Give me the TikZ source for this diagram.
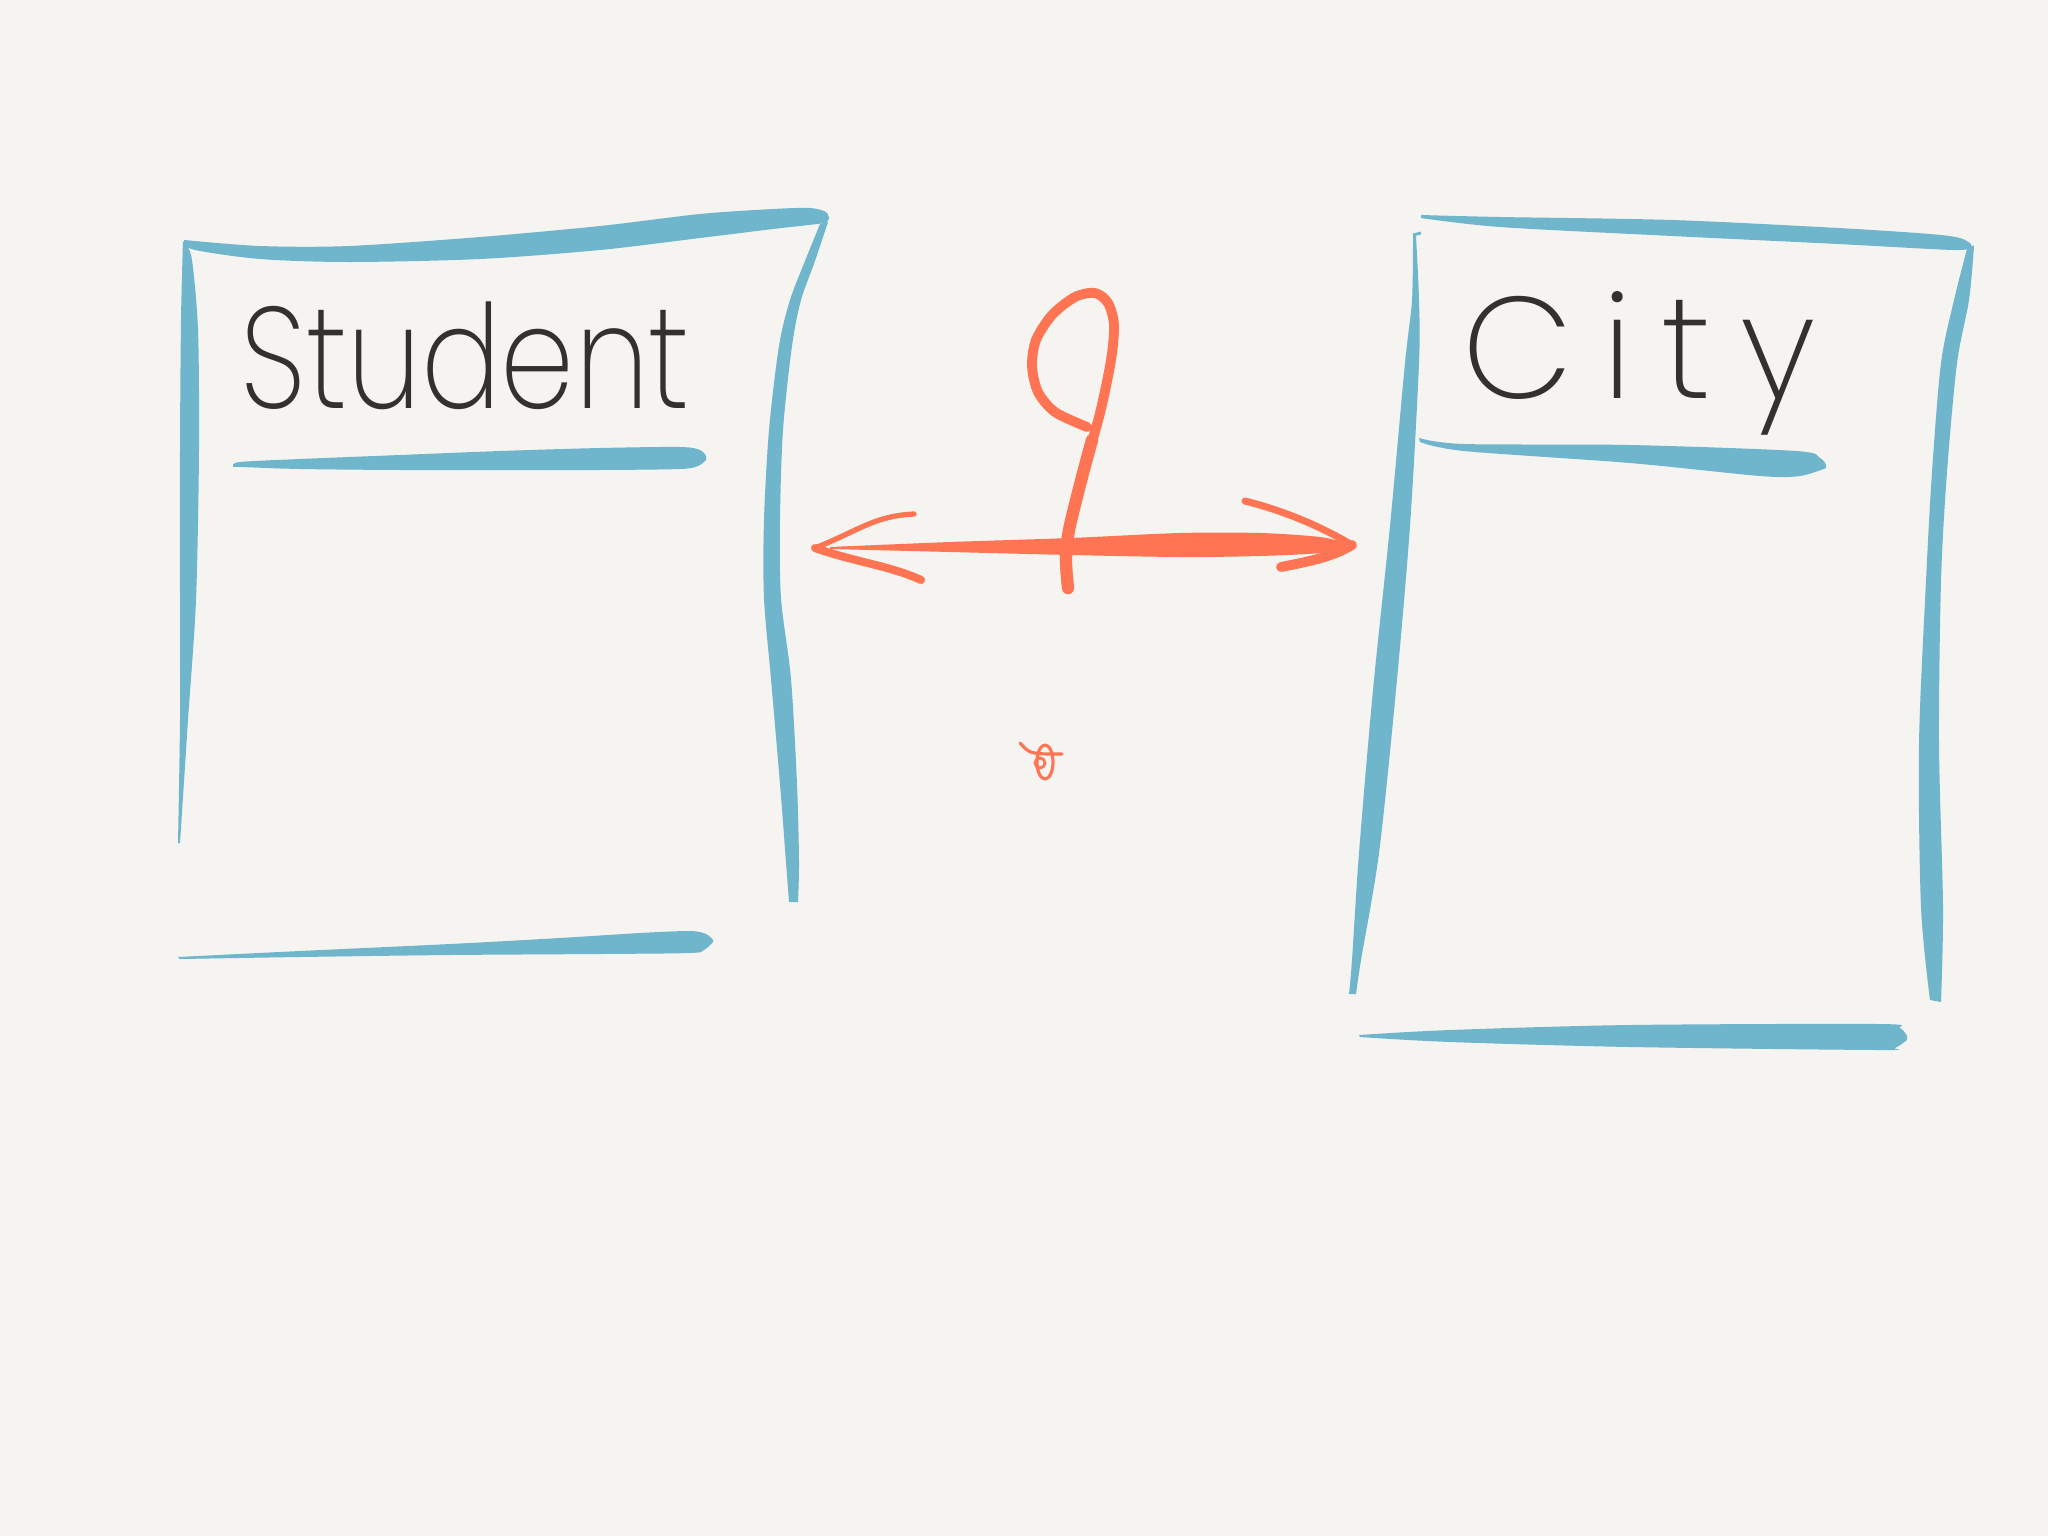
\documentclass[tikz,border=0pt]{standalone}
\usepackage{fontspec}
\usepackage{graphicx}
\IfFontExistsTF{Poppins ExtraLight}{\newfontfamily\handfont{Poppins ExtraLight}}{\newfontfamily\handfont{Poppins}}
\definecolor{paper}{RGB}{245,244,240}
\definecolor{boxblue}{RGB}{111,181,203}
\definecolor{pen}{RGB}{255,117,83}
\definecolor{ink}{RGB}{51,49,45}
\begin{document}
\begin{tikzpicture}[x=0.01cm,y=-0.01cm,
  boxline/.style={fill=boxblue},
  penline/.style={draw=pen,line cap=round,line join=round},
  label/.style={inner sep=0pt,anchor=base west,text=ink,font=\handfont\fontsize{41}{45}\selectfont}]
\useasboundingbox (0,0) rectangle (2048,1536);
\fill[paper] (0,0) rectangle (2048,1536);

\fill[boxline] plot[smooth] coordinates {(184,240) (260,246) (349,246) (480,237) (600,226) (700,214) (773,209) (810,208) (826,212) (829,219)}
  -- plot[smooth] coordinates {(826,223) (800,226) (773,229) (700,238) (600,250) (480,259) (349,262) (260,259) (195,250) (184,243)} -- cycle;
\fill[boxline] plot[smooth] coordinates {(183,241) (181,320) (180,450) (180,600) (180,720) (178,843)}
  -- plot[smooth] coordinates {(180,843) (188,720) (196,600) (199,450) (198,330) (192,260) (186,245)} -- cycle;
\fill[boxline] plot[smooth] coordinates {(820,224) (805,261) (790,300) (779,346) (769,430) (764,520) (764,598) (771,679) (780,784) (786,862) (789,902)}
  -- plot[smooth] coordinates {(798,902) (799,862) (797,784) (791,679) (781,598) (780,520) (783,430) (792,346) (801,300) (815,261) (828,222)} -- cycle;
\fill[boxline] plot[smooth] coordinates {(233,466) (240,462) (300,459) (400,455) (500,451) (600,448) (680,447) (700,450) (706,456)}
  -- plot[smooth] coordinates {(706,460) (698,466) (680,469) (600,470) (500,470) (400,470) (300,469) (240,467) (233,467)} -- cycle;
\fill[boxline] plot[smooth] coordinates {(178,957) (300,951) (450,944) (560,938) (640,933) (690,931) (706,934) (713,940)}
  -- plot[smooth] coordinates {(713,942) (704,950) (690,953) (600,954) (450,955) (300,957) (180,959)} -- cycle;

\fill[boxline] plot[smooth] coordinates {(1421,215) (1500,217) (1672,220) (1838,228) (1930,234) (1960,238) (1971,244)}
  -- plot[smooth] coordinates {(1971,247) (1954,250) (1838,244) (1672,236) (1500,227) (1421,218)} -- cycle;
\fill[boxline] plot[smooth] coordinates {(1413,234) (1412,300) (1405,363) (1390,526) (1373,690) (1359,853) (1352,960) (1349,994)}
  -- plot[smooth] coordinates {(1356,994) (1361,960) (1379,853) (1396,690) (1410,526) (1419,363) (1419,300) (1416,236)} -- cycle;
\draw[boxblue,line width=0.8pt] (1413,235) -- (1421,233);
\fill[boxline] plot[smooth] coordinates {(1968,245) (1954,300) (1941,363) (1932,472) (1926,581) (1919,744) (1921,907) (1930,1000)}
  -- plot[smooth] coordinates {(1941,1002) (1943,907) (1939,744) (1941,581) (1947,472) (1957,363) (1969,300) (1974,246)} -- cycle;
\fill[boxline] plot[smooth] coordinates {(1419,438) (1464,444) (1630,445) (1796,451) (1820,458) (1826,465)}
  -- plot[smooth] coordinates {(1826,468) (1800,476) (1760,476) (1630,463) (1464,451) (1420,442)} -- cycle;
\fill[boxline] plot[smooth] coordinates {(1359,1035) (1450,1030) (1630,1025) (1879,1024) (1900,1028) (1907,1036)}
  -- plot[smooth] coordinates {(1907,1040) (1895,1048) (1879,1050) (1630,1047) (1450,1042) (1360,1037)} -- cycle;

\node[label] (student) at (240,408) {\resizebox{4.49cm}{\height}{Student}};
\node[label] (city) at (1462,398) {\addfontfeature{LetterSpace=20}City};

\coordinate (stuEnd) at (815,548);
\coordinate (cityEnd) at (1352,545);

\fill[pen] plot[smooth] coordinates {(830,547) (950,542) (1070,538) (1180,533) (1260,533) (1320,537) (1350,544)}
  -- plot[smooth] coordinates {(1350,547) (1320,553) (1260,556) (1180,557) (1070,555) (950,552) (830,549)} -- cycle;
\path[penline,line width=1.5pt] (stuEnd) ++(99,-34) .. controls ++(-40,2) and ++(45,-18) .. (stuEnd);
\path[penline,line width=2.3pt] (stuEnd) .. controls ++(40,14) and ++(-30,-14) .. ++(106,32);
\path[penline,line width=2pt] (cityEnd) ++(-107,-44) .. controls ++(40,10) and ++(-30,-18) .. (cityEnd);
\path[penline,line width=2.8pt] (cityEnd) .. controls ++(-20,12) and ++(30,-6) .. ++(-71,22);

\draw[penline,line width=2.8pt] plot[smooth] coordinates {(1068,588) (1066,560) (1069,530) (1082,477) (1100,413) (1111,360) (1114,325) (1108,303) (1095,293) (1075,297) (1052,315) (1036,340) (1032,366) (1038,392) (1055,412) (1087,427)};
\draw[penline,line width=3.5pt] plot[smooth] coordinates {(1068,588) (1066,560) (1069,530) (1082,477) (1092,440)};

\draw[penline,line width=0.9pt] (1020,743) .. controls (1030,754) .. (1062,754);
\draw[penline,line width=0.9pt] (1045,762) ellipse [x radius=8,y radius=17];
\draw[penline,line width=0.8pt] (1040,763) circle [radius=5];
\end{tikzpicture}
\end{document}
